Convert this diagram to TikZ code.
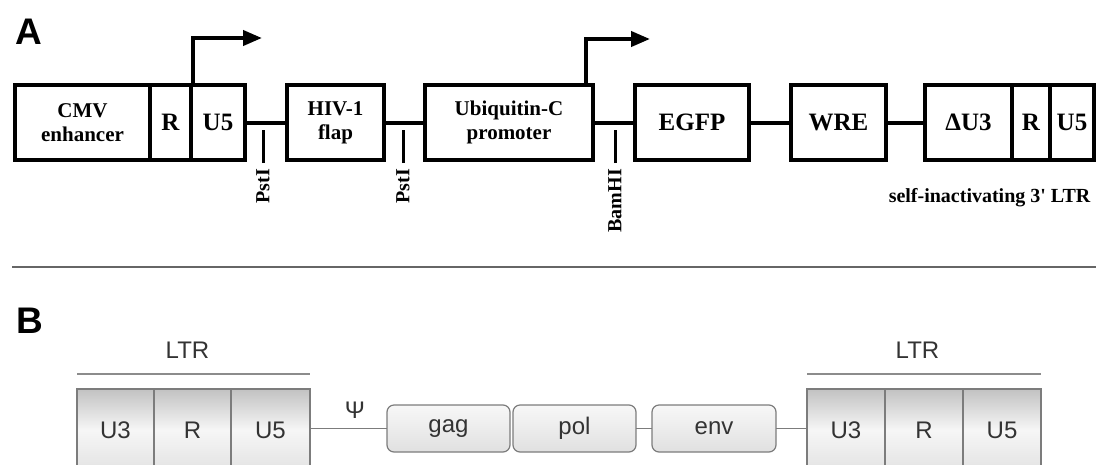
\documentclass[tikz,border=0pt]{standalone}
\usepackage{fontspec}
\setmainfont{Liberation Serif}
\setsansfont{Liberation Sans}
\newfontfamily\plainserif{Liberation Serif}[Ligatures=TeXOff]
\usetikzlibrary{arrows.meta}
\definecolor{edgegray}{HTML}{7C7C7C}
\definecolor{textgray}{HTML}{333333}
\definecolor{rulegray}{HTML}{666666}
\definecolor{overgray}{HTML}{8C8C8C}
\begin{document}
\begin{tikzpicture}[x=1pt,y=-1pt,
  panel/.style={font=\sffamily\bfseries\fontsize{37}{40}\selectfont, inner sep=0pt},
  elemA/.style={draw, line width=4pt, inner sep=0pt, outer sep=0pt,
    minimum height=75pt, align=center,
    font=\bfseries\fontsize{21}{24}\selectfont},
  bigA/.style={elemA, font=\bfseries\fontsize{25}{28}\selectfont},
  linkA/.style={line width=4pt},
  tickA/.style={line width=3pt},
  siteA/.style={rotate=90, anchor=east, inner sep=0pt,
    font=\bfseries\fontsize{20}{22}\selectfont},
  tss/.style={line width=4pt, -{Triangle[length=19pt,width=15pt]}},
  cellB/.style={draw=edgegray, line width=1.2pt, inner sep=0pt, outer sep=0pt,
    minimum height=82pt, top color=gray!48, bottom color=gray!22,
    middle color=gray!7, text=textgray,
    font=\sffamily\fontsize{24}{26}\selectfont},
  geneB/.style={draw=edgegray, line width=1.2pt, inner sep=0pt, outer sep=0pt,
    rounded corners=7pt, minimum height=47pt, top color=gray!6,
    bottom color=gray!24, text=textgray,
    font=\sffamily\fontsize{24}{26}\selectfont},
  linkB/.style={draw=edgegray, line width=1.2pt},
  overB/.style={draw=overgray, line width=1.5pt},
  ltrB/.style={text=textgray, inner sep=0pt,
    font=\sffamily\fontsize{24}{26}\selectfont}]
\useasboundingbox (0,0) rectangle (1103,464);
\clip (0,0) rectangle (1103,464);

% ---------------- panel A: lentiviral transfer vector ----------------
\node[panel] (labA) at (28.5,32) {A};

\node[elemA, minimum width=135pt] (cmv) at (82.5,122.5) {CMV\\enhancer};
\node[bigA, minimum width=41pt]  (r5)  at (170.5,122.5) {R};
\node[bigA, minimum width=54pt]  (u5)  at (218,122.5) {U5};
\node[elemA, minimum width=97pt] (hiv) at (335.5,122.5) {HIV-1\\flap};
\node[elemA, minimum width=168pt] (ubc) at (509,122.5) {Ubiquitin-C\\promoter};
\node[bigA, minimum width=114pt] (egfp) at (692,122.5) {EGFP};
\node[bigA, minimum width=95pt]  (wre) at (838.5,122.5) {WRE};
\node[bigA, minimum width=87pt]  (du3) at (968.5,122.5) {ΔU3};
\node[bigA, minimum width=38pt]  (r3)  at (1031,122.5) {R};
\node[bigA, minimum width=44pt]  (u53) at (1072,122.5) {U5};

\draw[linkA] (u5.east) -- (hiv.west);
\draw[linkA] (hiv.east) -- (ubc.west);
\draw[linkA] (ubc.east) -- (egfp.west);
\draw[linkA] (egfp.east) -- (wre.west);
\draw[linkA] (wre.east) -- (du3.west);

% transcription start sites
\coordinate (tssA) at (193,85);
\coordinate (tssB) at (586,85);
\draw[tss] (tssA) -- ++(0,-47) -- ++(69,0);
\draw[tss] (tssB) -- ++(0,-46) -- ++(64,0);

% restriction sites
\node[siteA] (pst1) at (263,169) {PstI};
\node[siteA] (pst2) at (403,169) {PstI};
\node[siteA] (bam)  at (615,169) {BamHI};
\draw[tickA] (pst1.east) ++(0,-6) -- ++(0,-33);
\draw[tickA] (pst2.east) ++(0,-6) -- ++(0,-33);
\draw[tickA] (bam.east) ++(0,-6) -- ++(0,-33);

\node[font=\plainserif\bfseries\fontsize{20}{22}\selectfont, inner sep=0pt] (sin)
  at (989.5,198) {self-inactivating 3' LTR};

% separator
\coordinate (sepL) at (12,267);
\coordinate (sepR) at (1096,267);
\draw[rulegray, line width=2pt] (sepL) -- (sepR);

% ---------------- panel B: provirus ----------------
\node[panel] (labB) at (29.5,320.5) {B};

\node[cellB, minimum width=77pt] (u3a) at (115.5,430) {U3};
\node[cellB, minimum width=77pt] (ra)  at (192.5,430) {R};
\node[cellB, minimum width=79pt] (u5a) at (270.5,430) {U5};

\node[geneB, minimum width=123pt] (gag) at (448.5,428.5) {gag};
\node[geneB, minimum width=123pt] (pol) at (574.5,428.5) {pol};
\node[geneB, minimum width=124pt] (env) at (714,428.5) {env};

\node[cellB, minimum width=78pt] (u3b) at (846,430) {U3};
\node[cellB, minimum width=78pt] (rb)  at (924,430) {R};
\node[cellB, minimum width=78pt] (u5b) at (1002,430) {U5};

\draw[linkB] (u5a.east |- gag.west) -- (gag.west);
\draw[linkB] (pol.east) -- (env.west);
\draw[linkB] (env.east) -- (u3b.west |- env.east);

\node[ltrB] (psi) at (355,410) {Ψ};

\draw[overB] ([yshift=15pt]u3a.north west) -- ([yshift=15pt]u5a.north east);
\draw[overB] ([yshift=15pt]u3b.north west) -- ([yshift=15pt]u5b.north east);
\node[ltrB] (ltrL) at (187.5,350) {LTR};
\node[ltrB] (ltrR) at (917.5,350) {LTR};
\end{tikzpicture}
\end{document}
